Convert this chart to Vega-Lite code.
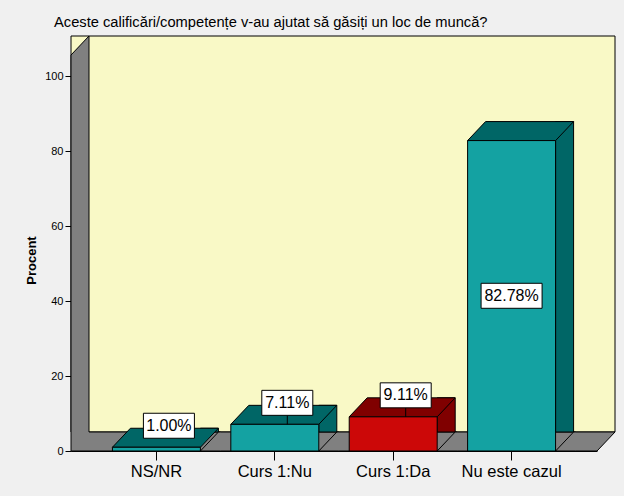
{
  "$schema": "https://vega.github.io/schema/vega-lite/v6.json",
  "autosize": "none",
  "padding": {"left": 71, "top": 55, "right": 27, "bottom": 45},
  "width": 526,
  "height": 396,
  "background": "#f0f0f0",
  "title": {
    "text": "Aceste calificări/competențe v-au ajutat să găsiți un loc de muncă?",
    "anchor": "start",
    "frame": "group",
    "dx": -17,
    "offset": 4,
    "fontSize": 14.7,
    "fontWeight": "normal",
    "font": "Liberation Sans",
    "color": "#000000"
  },
  "config": {
    "font": "Liberation Sans",
    "view": {"stroke": null}
  },
  "data": {
    "values": [
      {"cat": "NS/NR", "value": 1.00, "label": "1.00%"},
      {"cat": "Curs 1:Nu", "value": 7.11, "label": "7.11%"},
      {"cat": "Curs 1:Da", "value": 9.11, "label": "9.11%"},
      {"cat": "Nu este cazul", "value": 82.78, "label": "82.78%"}
    ]
  },
  "layer": [
    {
      "data": {"values": [{"wall": "back"}]},
      "mark": {"type": "rect", "fill": "#f9f9c6", "stroke": "#000000", "strokeWidth": 1, "xOffset": 18, "x2Offset": 18, "yOffset": -19, "y2Offset": -19},
      "encoding": {
        "y": {"datum": 105.6, "type": "quantitative",
          "scale": {"domain": [0, 105.6], "nice": false, "zero": true},
          "axis": {
            "title": "Procent",
            "titleFontSize": 13,
            "titleFontWeight": "bold",
            "titleColor": "#000000",
            "titleX": -36,
            "titleY": 205,
            "titleBaseline": "alphabetic",
            "values": [0, 20, 40, 60, 80, 100],
            "labelFontSize": 11,
            "labelColor": "#000000",
            "labelPadding": 2,
            "tickSize": 6,
            "tickColor": "#000000",
            "domainColor": "#000000",
            "grid": false
          }},
        "y2": {"datum": 0}
      }
    },
    {
      "data": {"values": [{"wall": "shell"}]},
      "mark": {"type": "point", "filled": true, "opacity": 1, "size": 4, "fill": "#808080", "stroke": "#000000", "strokeWidth": 1,
        "shape": "M-263,0L-263,-396L-245,-415L-245,-19L281,-19L263,0Z"},
      "encoding": {
        "y": {"datum": 0, "type": "quantitative"}
      }
    },
    {
      "mark": {"type": "bar", "width": 18, "xOffset": 53, "yOffset": -19, "stroke": "#000000", "strokeWidth": 1},
      "encoding": {
        "x": {
          "field": "cat",
          "type": "nominal",
          "sort": null,
          "scale": {"type": "band", "paddingInner": 0.257, "paddingOuter": 0.35},
          "axis": {
            "title": null,
            "labelAngle": 0,
            "labelFontSize": 16.5,
            "labelColor": "#000000",
            "labelPadding": 3,
            "tickSize": 9,
            "tickColor": "#000000",
            "domainColor": "#000000",
            "grid": false
          }
        },
        "y": {"field": "value", "type": "quantitative"},
        "fill": {"condition": {"test": "datum.cat === 'Curs 1:Da'", "value": "#800000"}, "value": "#006666"}
      }
    },
    {
      "mark": {"type": "point", "filled": true, "opacity": 1, "size": 4, "fill": "#808080", "stroke": "#000000", "strokeWidth": 1,
        "shape": "M64,-19L62,-19L44,0L64,0"},
      "encoding": {
        "x": {"field": "cat", "type": "nominal", "sort": null},
        "y": {"datum": 0, "type": "quantitative"}
      }
    },
    {
      "mark": {"type": "point", "filled": true, "opacity": 1, "size": 4, "stroke": "#000000", "strokeWidth": 1,
        "shape": "M-44,0L44,0L62,-19L-26,-19Z"},
      "encoding": {
        "x": {"field": "cat", "type": "nominal", "sort": null},
        "y": {"field": "value", "type": "quantitative"},
        "fill": {"condition": {"test": "datum.cat === 'Curs 1:Da'", "value": "#800000"}, "value": "#006666"}
      }
    },
    {
      "mark": {"type": "bar", "stroke": "#000000", "strokeWidth": 1},
      "encoding": {
        "x": {"field": "cat", "type": "nominal", "sort": null},
        "y": {"field": "value", "type": "quantitative"},
        "fill": {"condition": {"test": "datum.cat === 'Curs 1:Da'", "value": "#cc0808"}, "value": "#14a2a2"}
      }
    },
    {
      "transform": [{"filter": "datum.value > 5 && datum.value < 50"}],
      "mark": {"type": "rule", "color": "#000000", "strokeWidth": 1, "xOffset": 12.5, "yOffset": -9},
      "encoding": {
        "x": {"field": "cat", "type": "nominal", "sort": null},
        "y": {"field": "value", "type": "quantitative"},
        "y2": {"field": "value"}
      }
    },
    {
      "transform": [{"filter": "datum.value < 50"}],
      "mark": {"type": "point", "filled": true, "opacity": 1, "size": 4, "fill": "#ffffff", "stroke": "#000000", "strokeWidth": 1,
        "shape": "M-13,-34L38,-34L38,-9L-13,-9Z"},
      "encoding": {
        "x": {"field": "cat", "type": "nominal", "sort": null},
        "y": {"field": "value", "type": "quantitative"}
      }
    },
    {
      "transform": [{"filter": "datum.value < 50"}],
      "mark": {"type": "text", "fontSize": 16, "color": "#000000", "dx": 12.5, "dy": -21.5, "align": "center", "baseline": "middle"},
      "encoding": {
        "x": {"field": "cat", "type": "nominal", "sort": null},
        "y": {"field": "value", "type": "quantitative"},
        "text": {"field": "label"}
      }
    },
    {
      "transform": [{"filter": "datum.value >= 50"}],
      "mark": {"type": "point", "filled": true, "opacity": 1, "size": 4, "fill": "#ffffff", "stroke": "#000000", "strokeWidth": 1,
        "shape": "M-30.5,-12.5L30.5,-12.5L30.5,12.5L-30.5,12.5Z"},
      "encoding": {
        "x": {"field": "cat", "type": "nominal", "sort": null},
        "y": {"field": "value", "type": "quantitative", "stack": "zero", "bandPosition": 0.5}
      }
    },
    {
      "transform": [{"filter": "datum.value >= 50"}],
      "mark": {"type": "text", "fontSize": 16, "color": "#000000", "align": "center", "baseline": "middle"},
      "encoding": {
        "x": {"field": "cat", "type": "nominal", "sort": null},
        "y": {"field": "value", "type": "quantitative", "stack": "zero", "bandPosition": 0.5},
        "text": {"field": "label"}
      }
    }
  ]
}
